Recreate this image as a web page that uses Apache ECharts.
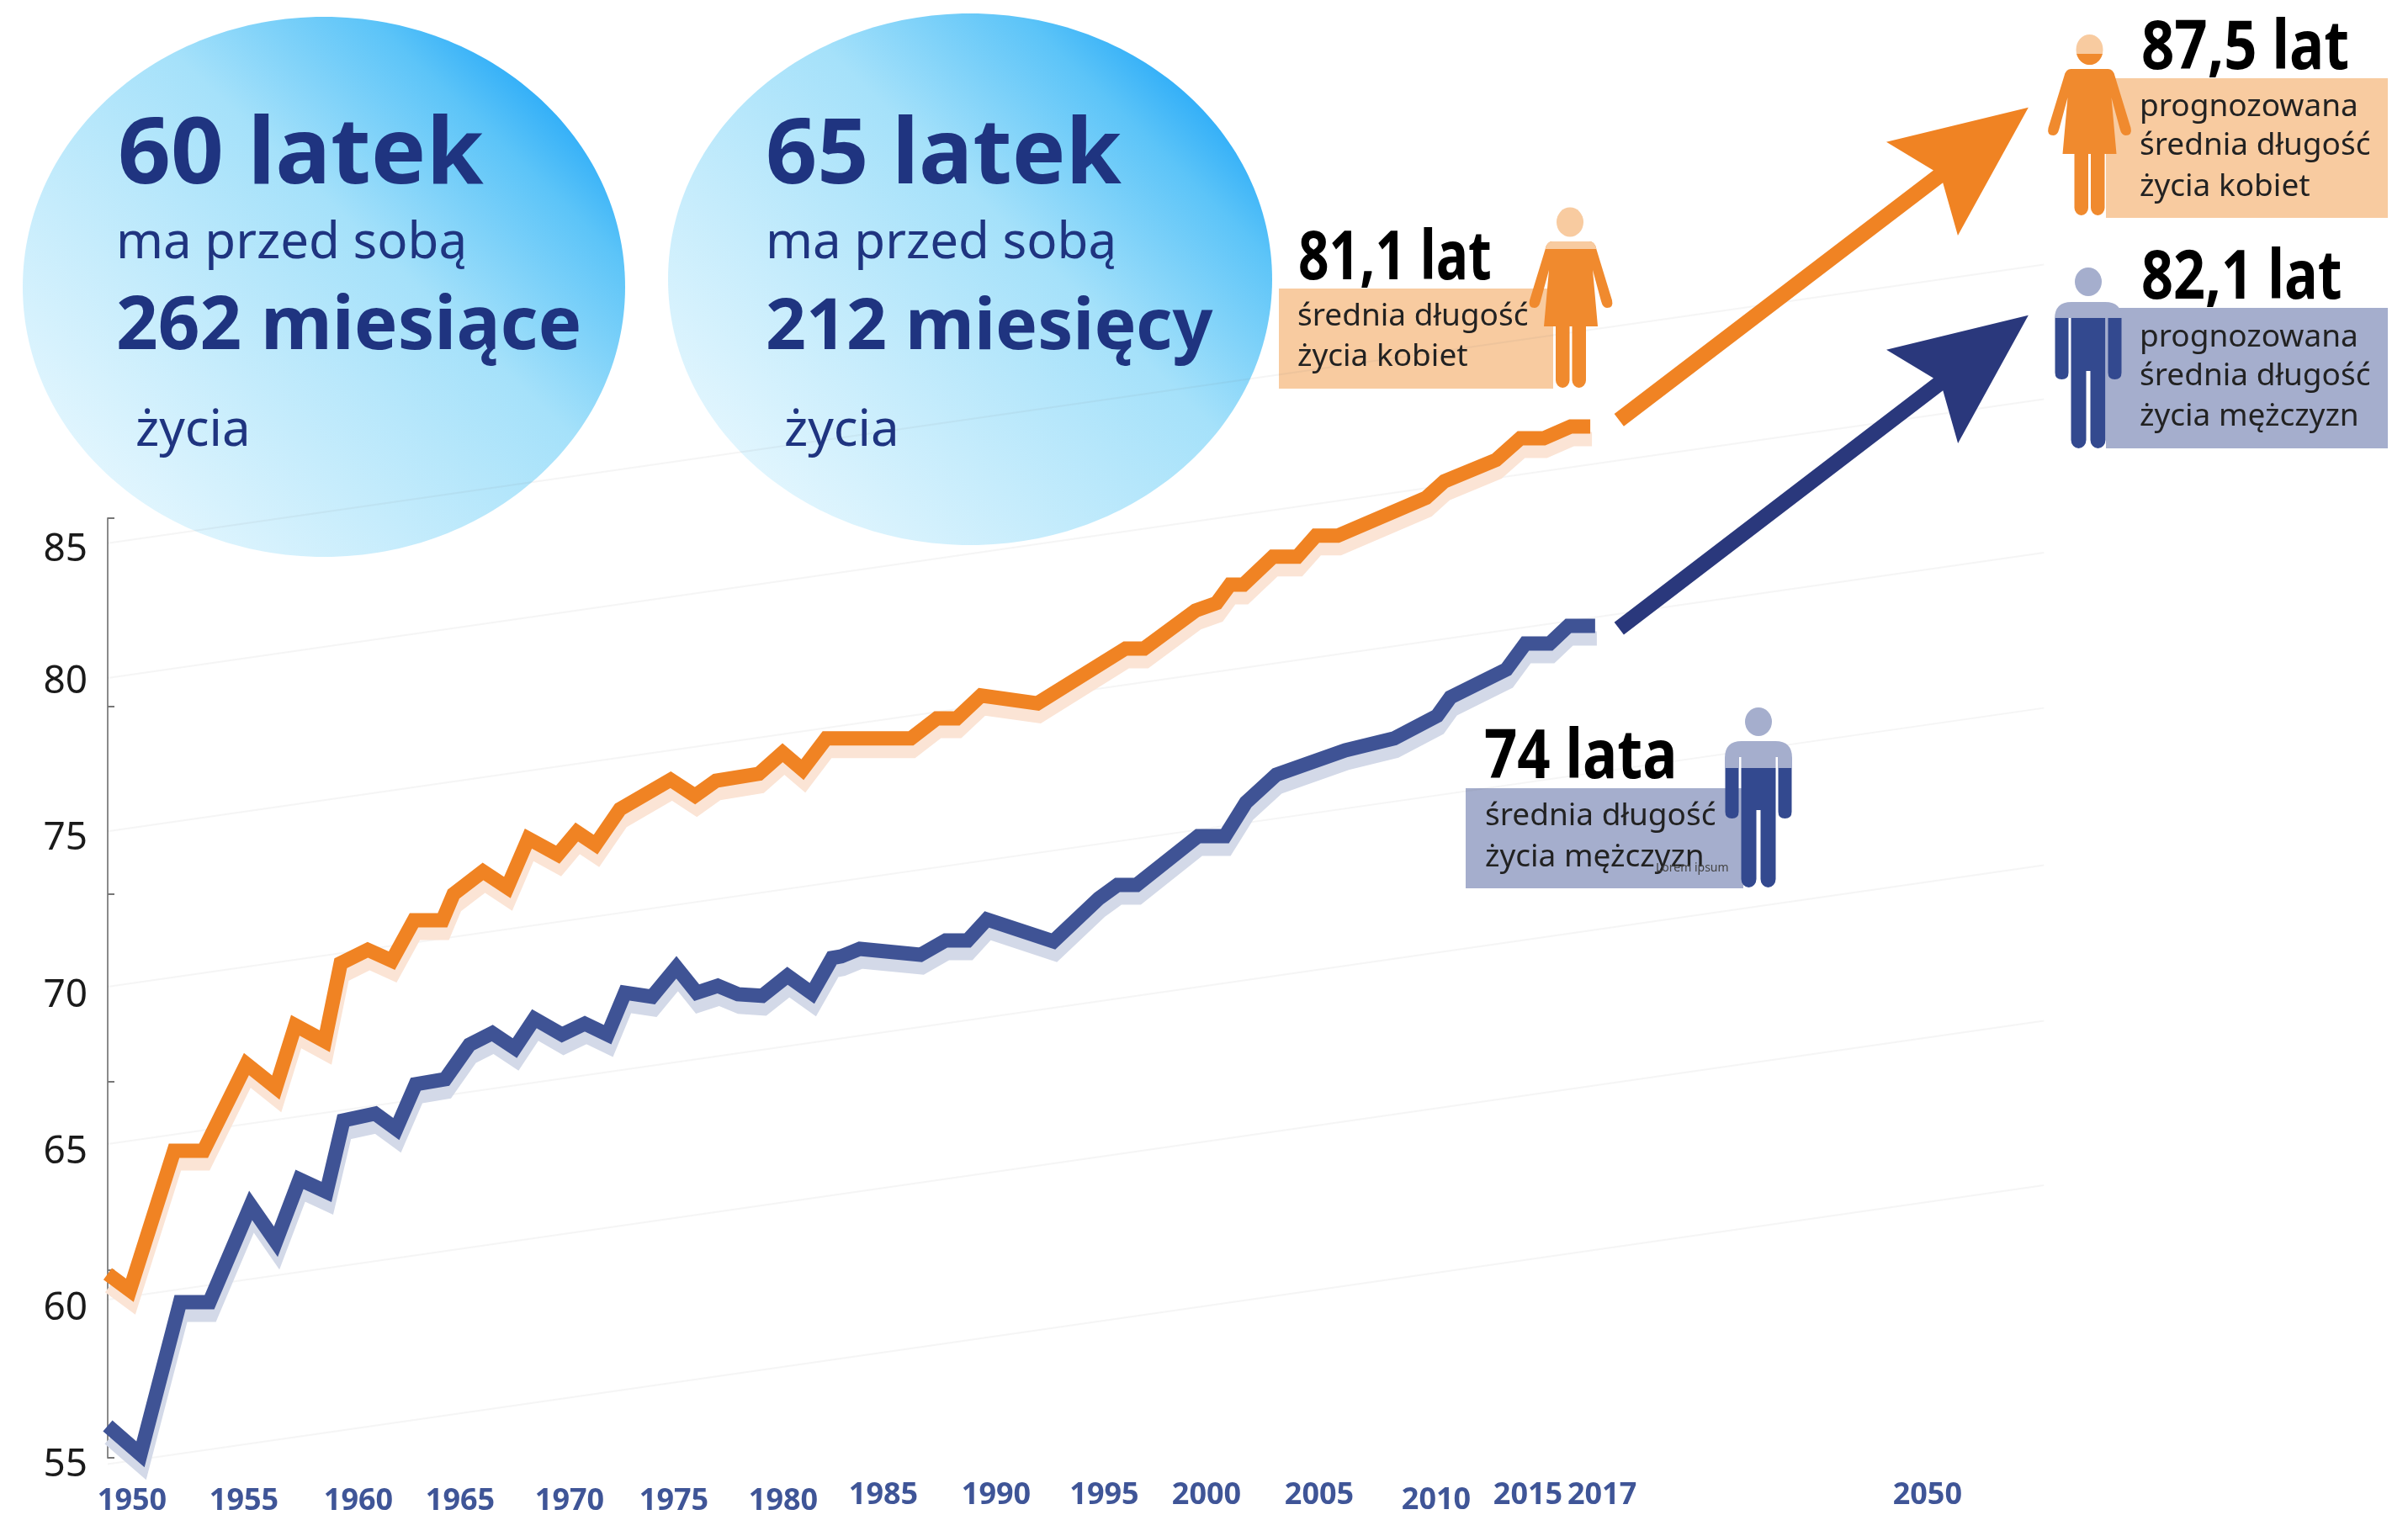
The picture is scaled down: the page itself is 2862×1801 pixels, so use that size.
<!DOCTYPE html>
<html><head><meta charset="utf-8">
<style>html,body{margin:0;padding:0;background:#fff}#c{width:2862px;height:1801px}</style>
<script src="https://cdn.jsdelivr.net/npm/echarts@6/dist/echarts.min.js"></script>
</head><body><div id="c"></div>
<script>
// ---- data ----
const femaleYears=[1950,1951,1953,1954.33,1956.27,1957.6,1958.48,1959.81,1960.53,1961.75,1962.84,1963.84,1965.13,1965.63,1966.96,1968.06,1969.01,1970.34,1971.2,1972.05,1973.15,1975.44,1976.54,1977.49,1979.43,1980.5,1981.4,1982.47,1986.3,1987.47,1988.37,1989.47,1992.02,1996,1996.84,1999.16,2000.11,2000.72,2001.33,2002.66,2003.76,2004.6,2005.59,2009.58,2010.41,2012.74,2013.84,2014.9,2016.12,2017];
const femaleValues=[60.87,60.35,64.8,64.8,67.57,66.82,68.81,68.3,70.79,71.22,70.87,72.16,72.16,73,73.72,73.21,74.77,74.26,74.98,74.58,75.71,76.65,76.14,76.62,76.84,77.51,76.97,77.97,77.97,78.61,78.61,79.34,79.09,80.84,80.84,82.05,82.29,82.88,82.88,83.77,83.77,84.44,84.44,85.65,86.18,86.86,87.55,87.55,87.93,87.93];
const maleYears=[1950,1951.48,1953.27,1954.6,1956.46,1957.6,1958.67,1959.89,1960.65,1962.09,1963.04,1963.92,1965.25,1966.35,1967.38,1968.4,1969.28,1970.53,1971.56,1972.59,1973.38,1974.6,1975.7,1976.62,1977.57,1978.48,1979.58,1980.72,1981.83,1982.74,1983.16,1983.99,1986.73,1987.87,1988.86,1989.73,1992.74,1994.79,1995.63,1996.5,1999.28,2000.49,2001.44,2002.81,2005.93,2008.14,2010.08,2010.68,2013.21,2014.07,2015.17,2016.01,2017.22];
const maleValues=[56.02,55.11,59.97,59.97,63.06,61.9,63.89,63.49,65.77,65.99,65.5,66.93,67.09,68.19,68.56,68.08,69.02,68.51,68.86,68.51,69.85,69.72,70.66,69.85,70.07,69.8,69.75,70.39,69.83,70.96,71.01,71.25,71.06,71.52,71.52,72.19,71.49,72.86,73.29,73.29,74.85,74.85,75.92,76.81,77.59,77.97,78.69,79.28,80.17,81,81,81.56,81.56];
const xTicks=[1950,1955,1960,1965,1970,1975,1980,1985,1990,1995,2000,2005,2010,2015,2017,2050];
const forecastFemale=[2018.3,88.13,2054.6,98.11];
const forecastMale=[2018.3,81.48,2054.6,91.48];
const guideStart=[84.2,79.9,75,70.04,65.02,60.05,54.8];
const guideEnd=[93.1,88.8,83.9,78.94,73.92,68.95,63.7];
// ---- layout of the hand-placed year labels (pixel shift from their ticks) ----
const xLabelDx=[29,30.5,35,24.5,23,15.5,14,1.5,4,1,-9,-6.5,1,-21.5,14,1];
const xLabelDy=[7,7,7,7,7,7,7,0,0,0,0,0,6,0,0,0];

const ORANGE='#f08323',NAVY='#3f5395',ARROWNAVY='#2a387c',BOXO='#f8cba0',BOXB='#a5aecd',DARKB='#33498f',INK='#1f3480';
const SANS="'Noto Sans',sans-serif";
const G=[],ICONS=[];
const txt=(x,base,text,size,weight,fill,sx)=>G.push({type:'text',x,y:base-0.30*size,scaleX:sx||1,silent:true,z:6,
  style:{text,fontSize:size,fontWeight:weight,fontFamily:SANS,fill,align:'left',verticalAlign:'middle'}});
const box=(x,y,w,h,fill)=>G.push({type:'rect',shape:{x,y,width:w,height:h},style:{fill},silent:true});
const bubble=(cx,cy,rx,ry)=>G.push({type:'ellipse',shape:{cx,cy,rx,ry},silent:true,style:{fill:{type:'linear',x:0.88,y:0.08,x2:0.14,y2:0.94,colorStops:[{offset:0,color:'#1da4f8'},{offset:0.15,color:'#5cc4f8'},{offset:0.4,color:'#a5e1fa'},{offset:1,color:'#e6f7fe'}]}}});
const pth=(x,y,d,fill)=>ICONS.push({type:'path',x,y,silent:true,shape:{pathData:d},style:{fill}});
const head=(cx,cy,rx,ry,fill)=>ICONS.push({type:'path',x:cx,y:cy,silent:true,shape:{pathData:`M${-rx} 0A${rx} ${ry} 0 1 1 ${rx} 0A${rx} ${ry} 0 1 1 ${-rx} 0Z`},style:{fill}});
const strip=(x,y,w,h,fill)=>ICONS.push({type:'rect',shape:{x,y,width:w,height:h},style:{fill},silent:true});

function man(cx,headY,top,cut){
  head(cx,headY,16,17,BOXB);
  pth(cx,top,`M-40 ${cut}L-40 20Q-40 0-20 0L20 0Q40 0 40 20L40 ${cut}Z`,BOXB);
  pth(cx,top,`M-39.5 ${cut}H-23.5V84Q-23.5 92-31.5 92Q-39.5 92-39.5 84ZM39.5 ${cut}H23.5V84Q23.5 92 31.5 92Q39.5 92 39.5 84Z`,DARKB);
  pth(cx,top,`M-20.5 ${cut}H20.5V164A9 10 0 0 1 2.5 164V82H-2.5V164A9 10 0 0 1-20.5 164Z`,DARKB);
  strip(cx-23,top+19,2.5,Math.max(cut-19,0),'#fff');strip(cx+20.5,top+19,2.5,Math.max(cut-19,0),'#fff');
}
const WBODY='M-22 0H22Q28 0 30 8L49 70Q51 79 43 79Q38 79 36 71L26 34L32 101H-32L-26 34L-36 71Q-38 79-43 79Q-51 79-49 70L-30 8Q-28 0-22 0Z';
const WLEGS='M-18 100H-1.5V165A8.25 9 0 0 1-18 165ZM18 100H1.5V165A8.25 9 0 0 0 18 165Z';
const BODYO='#f08a2e';

// bubbles and their text
bubble(385,341,358,321);bubble(1153,332,359,316);
txt(140,220,'60 latek',110,700,INK);txt(138,308,'ma przed sobą',60,400,INK);txt(138,416.5,'262 miesiące',87,700,INK);txt(161,531,'życia',60,400,INK);
txt(910,220,'65 latek',107,700,INK);txt(910,308,'ma przed sobą',60,400,INK);txt(910,416.5,'212 miesięcy',84,700,INK);txt(932,531,'życia',60,400,INK);
// callout boxes
box(2503,93,335,166,BOXO);box(2503,366,335,167,BOXB);box(1520,343,326,119,BOXO);box(1742,937,330,119,BOXB);
// woman, current
head(1866,264,16,17.5,BOXO);
pth(1867,287,WBODY,BODYO);pth(1867,287,WLEGS,BODYO);
pth(1867,287,'M-22 0H22Q28 0 30 8L30.6 9H-30.6L-30 8Q-28 0-22 0Z',BOXO);
// woman, forecast
head(2483.5,59,16,18,BOXO);
pth(2483.5,59,'M-15.4 5A16 18 0 0 0 15.4 5Z',BODYO);
pth(2483.5,82,WBODY,BODYO);pth(2483.5,82,WLEGS,BODYO);
// men
man(2090,858,881,32);man(2482,335,359,19);
// figures and captions
txt(2545,83,'87,5 lat',80,700,'#000',.86);
txt(2543,139,'prognozowana',37,400,'#222');txt(2543,185,'średnia długość',37,400,'#222');txt(2543,234,'życia kobiet',37,400,'#222');
txt(2545,356,'82,1 lat',80,700,'#000',.83);
txt(2543,413,'prognozowana',37,400,'#222');txt(2543,459,'średnia długość',37,400,'#222');txt(2543,507,'życia mężczyzn',37,400,'#222');
txt(1543,333,'81,1 lat',80,700,'#000',.8);
txt(1542,388,'średnia długość',37,400,'#222');txt(1542,436,'życia kobiet',37,400,'#222');
txt(1764,926,'74 lata',80,700,'#000',.86);
txt(1765,982,'średnia długość',37,400,'#222');txt(1765,1031,'życia mężczyzn',37,400,'#222');
txt(1968,1036,'Lorem ipsum',14,400,'#444');

const guideSeries=guideStart.map((v,i)=>({type:'line',silent:true,clip:false,z:1,symbol:'none',animation:false,
  data:[[1950,v],[2055.3,guideEnd[i]]],lineStyle:{color:'rgba(120,120,120,0.07)',width:2}}));
const curve=(name,xs,ys,color,shadow)=>({name,type:'line',clip:false,z:4,symbol:'none',animation:false,
  data:xs.map((x,i)=>[x,ys[i]]),
  lineStyle:{color,width:17,join:'miter',cap:'butt',miterLimit:4,shadowColor:shadow,shadowOffsetY:15,shadowOffsetX:2,shadowBlur:0}});
const rich={};
xTicks.forEach((y,i)=>{const d=xLabelDx[i];rich['y'+y]={fontSize:36,fontWeight:700,fontFamily:SANS,color:'#3f5597',
  padding:[xLabelDy[i],d<0?-d*2:0,0,d>0?d*2:0]};});
const yLabelStyle={fontSize:46,color:'#1a1a1a',fontFamily:SANS,lineHeight:18};

const chart=echarts.init(document.getElementById('c'),null,{renderer:'canvas'});
chart.setOption({
  animation:false,backgroundColor:'#fff',
  grid:{left:128,top:616,width:2306.5,height:1117,containLabel:false,outerBoundsMode:'none'},
  xAxis:{type:'value',min:1950,max:2055.5,splitLine:{show:false},axisLine:{show:false},axisTick:{show:false},
    breaks:[{start:2020,end:2045,gap:7.2}],breakArea:{show:false},
    axisLabel:{customValues:xTicks,margin:27,hideOverlap:false,formatter:v=>`{y${v}|${v}}`,rich}},
  yAxis:[
    {type:'value',min:55,max:85,interval:5,splitLine:{show:false},axisTick:{show:false},
      axisLine:{show:true,lineStyle:{color:'#8a8a8a',width:2}},
      axisLabel:{margin:24,verticalAlign:'top',verticalAlignMaxLabel:'top',verticalAlignMinLabel:'top',lineHeight:18,
        formatter:v=>v===85?`{t|${v}}`:`{n|${v}}`,
        rich:{n:{...yLabelStyle},t:{...yLabelStyle,padding:[58,0,0,0]}}}},
    {type:'value',min:0,max:5,interval:1,position:'left',splitLine:{show:false},axisLine:{show:false},axisLabel:{show:false},
      axisTick:{show:true,inside:true,length:8,lineStyle:{color:'#777',width:2}}}
  ],
  graphic:{elements:G},
  series:[...guideSeries,
    {type:'custom',name:'Sylwetki',coordinateSystem:'none',silent:true,z:3,animation:false,data:[0],
      renderItem:()=>({type:'group',children:ICONS})},
    curve('Kobiety',femaleYears,femaleValues,ORANGE,'#fbe4d5'),
    curve('Mężczyźni',maleYears,maleValues,NAVY,'#d3d9e8'),
    {type:'custom',name:'Prognoza',clip:false,z:5,silent:true,animation:false,coordinateSystem:'cartesian2d',
      encode:{x:[0,2],y:[1,3]},
      data:[[...forecastFemale,0],[...forecastMale,1]],
      renderItem(params,api){
        const a=api.coord([api.value(0),api.value(1)]),b=api.coord([api.value(2),api.value(3)]);
        const dx=b[0]-a[0],dy=b[1]-a[1],L=Math.hypot(dx,dy),u=[dx/L,dy/L],n=[-u[1],u[0]];
        const at=(al,pe)=>[b[0]+u[0]*al+n[0]*pe,b[1]+u[1]*al+n[1]*pe];
        return {type:'polygon',shape:{points:[at(-L,-9.3),at(-135,-9.3),at(-159,-70),at(0,0),at(-159,70),at(-135,9.3),at(-L,9.3)]},
          style:{fill:api.value(4)===0?ORANGE:ARROWNAVY}};
      }}
  ]
});
</script></body></html>
